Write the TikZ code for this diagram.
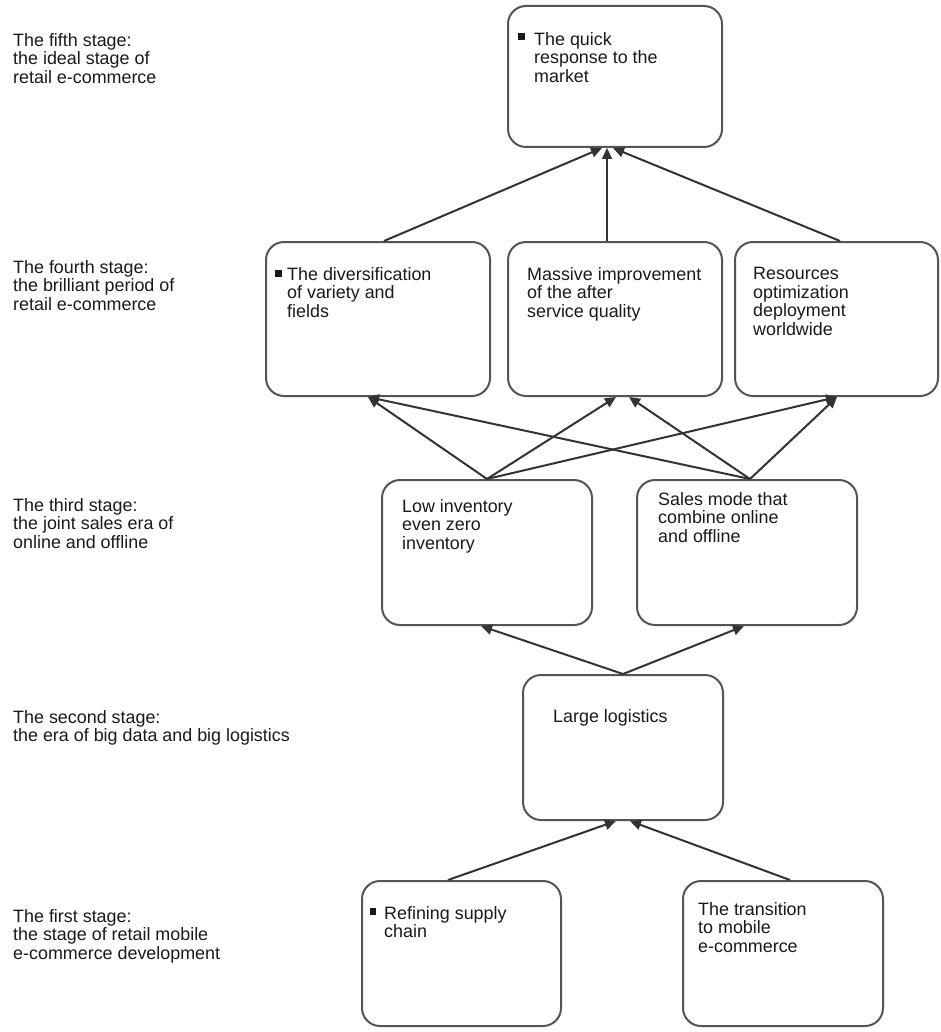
\documentclass[tikz,border=0pt]{standalone}
\usepackage{fontspec}
\setmainfont{Liberation Sans}
\usetikzlibrary{arrows.meta}
\definecolor{ink}{HTML}{1A1A1A}
\definecolor{edge}{HTML}{333333}
\definecolor{frame}{HTML}{555555}
\begin{document}
\begin{tikzpicture}[x=1pt,y=-1pt,
  box/.style={draw=frame, line width=2pt, rounded corners=18pt, fill=white, inner sep=0pt},
  txt/.style={anchor=north west, inner sep=0pt, align=left, text=ink,
    font=\fontsize{17.9}{18.5}\selectfont},
  conn/.style={draw=edge, line width=2pt, -{Triangle[length=11pt,width=10pt]}}
]
\useasboundingbox[fill=white] (0,0) rectangle (940,1032);

% stage labels
\node[txt] (s5) at (13,33) {The fifth stage:\\the ideal stage of\\retail e-commerce};
\node[txt] (s4) at (13,260) {The fourth stage:\\the brilliant period of\\retail e-commerce};
\node[txt] (s3) at (13,498) {The third stage:\\the joint sales era of\\online and offline};
\node[txt] (s2) at (13,710) {The second stage:\\the era of big data and big logistics};
\node[txt] (s1) at (13,909) {The first stage:\\the stage of retail mobile\\e-commerce development};

% boxes
\node[box, minimum width=214pt, minimum height=141pt] (quick) at (615,76.5) {};
\node[box, minimum width=224pt, minimum height=154pt] (div) at (378,319) {};
\node[box, minimum width=214pt, minimum height=154pt] (mass) at (615,319) {};
\node[box, minimum width=203pt, minimum height=154pt] (res) at (836.5,319) {};
\node[box, minimum width=210pt, minimum height=145pt] (low) at (487,552.5) {};
\node[box, minimum width=220pt, minimum height=145pt] (sales) at (747,552.5) {};
\node[box, minimum width=200pt, minimum height=145pt] (large) at (623,747.5) {};
\node[box, minimum width=199pt, minimum height=145pt] (refine) at (461.5,953.5) {};
\node[box, minimum width=200pt, minimum height=145pt] (trans) at (783,953.5) {};

% box texts
\node[txt] (tquick) at (534,32) {The quick\\response to the\\market};
\node[txt] (tdiv) at (287,267) {The diversification\\of variety and\\fields};
\node[txt] (tmass) at (527,267) {Massive improvement\\of the after\\service quality};
\node[txt] (tres) at (753,267) {Resources\\optimization\\deployment\\worldwide};
\node[txt] (tlow) at (402,499) {Low inventory\\even zero\\inventory};
\node[txt] (tsales) at (658,492) {Sales mode that\\combine online\\and offline};
\node[txt] (tlarge) at (553,709) {Large logistics};
\node[txt] (trefine) at (384,906) {Refining supply\\chain};
\node[txt] (ttrans) at (698,902) {The transition\\to mobile\\e-commerce};

% bullets
\fill[ink] ([shift={(-16,1.5)}]tquick.north west) rectangle ++(6.5,6.5);
\fill[ink] ([shift={(-12,3)}]tdiv.north west) rectangle ++(6.5,6.5);
\fill[ink] ([shift={(-14.5,2)}]trefine.north west) rectangle ++(6.5,6.5);

% connectors: 4th -> 5th
\draw[conn] ([xshift=6pt]div.north) -- ([xshift=-13pt]quick.south);
\draw[conn] ([xshift=-8pt]mass.north) -- ([xshift=-8pt]quick.south);
\draw[conn] ([xshift=3.5pt]res.north) -- ([xshift=-2pt]quick.south);

% 3rd -> 4th
\draw[conn] (low.north) -- ([xshift=-10pt]div.south);
\draw[conn] (low.north) -- ([xshift=1pt]mass.south);
\draw[conn] (low.north) -- ([xshift=0.5pt]res.south);
\draw[conn] ([xshift=3pt]sales.north) -- ([xshift=-10pt]div.south);
\draw[conn] ([xshift=3pt]sales.north) -- ([xshift=14pt]mass.south);
\draw[conn] ([xshift=3pt]sales.north) -- ([xshift=0.5pt]res.south);

% 2nd -> 3rd
\draw[conn] (large.north) -- ([xshift=-6pt]low.south);
\draw[conn] (large.north) -- ([xshift=-3pt]sales.south);

% 1st -> 2nd
\draw[conn] ([xshift=-13.5pt]refine.north) -- ([xshift=-7pt]large.south);
\draw[conn] ([xshift=7pt]trans.north) -- ([xshift=7pt]large.south);
\end{tikzpicture}
\end{document}
